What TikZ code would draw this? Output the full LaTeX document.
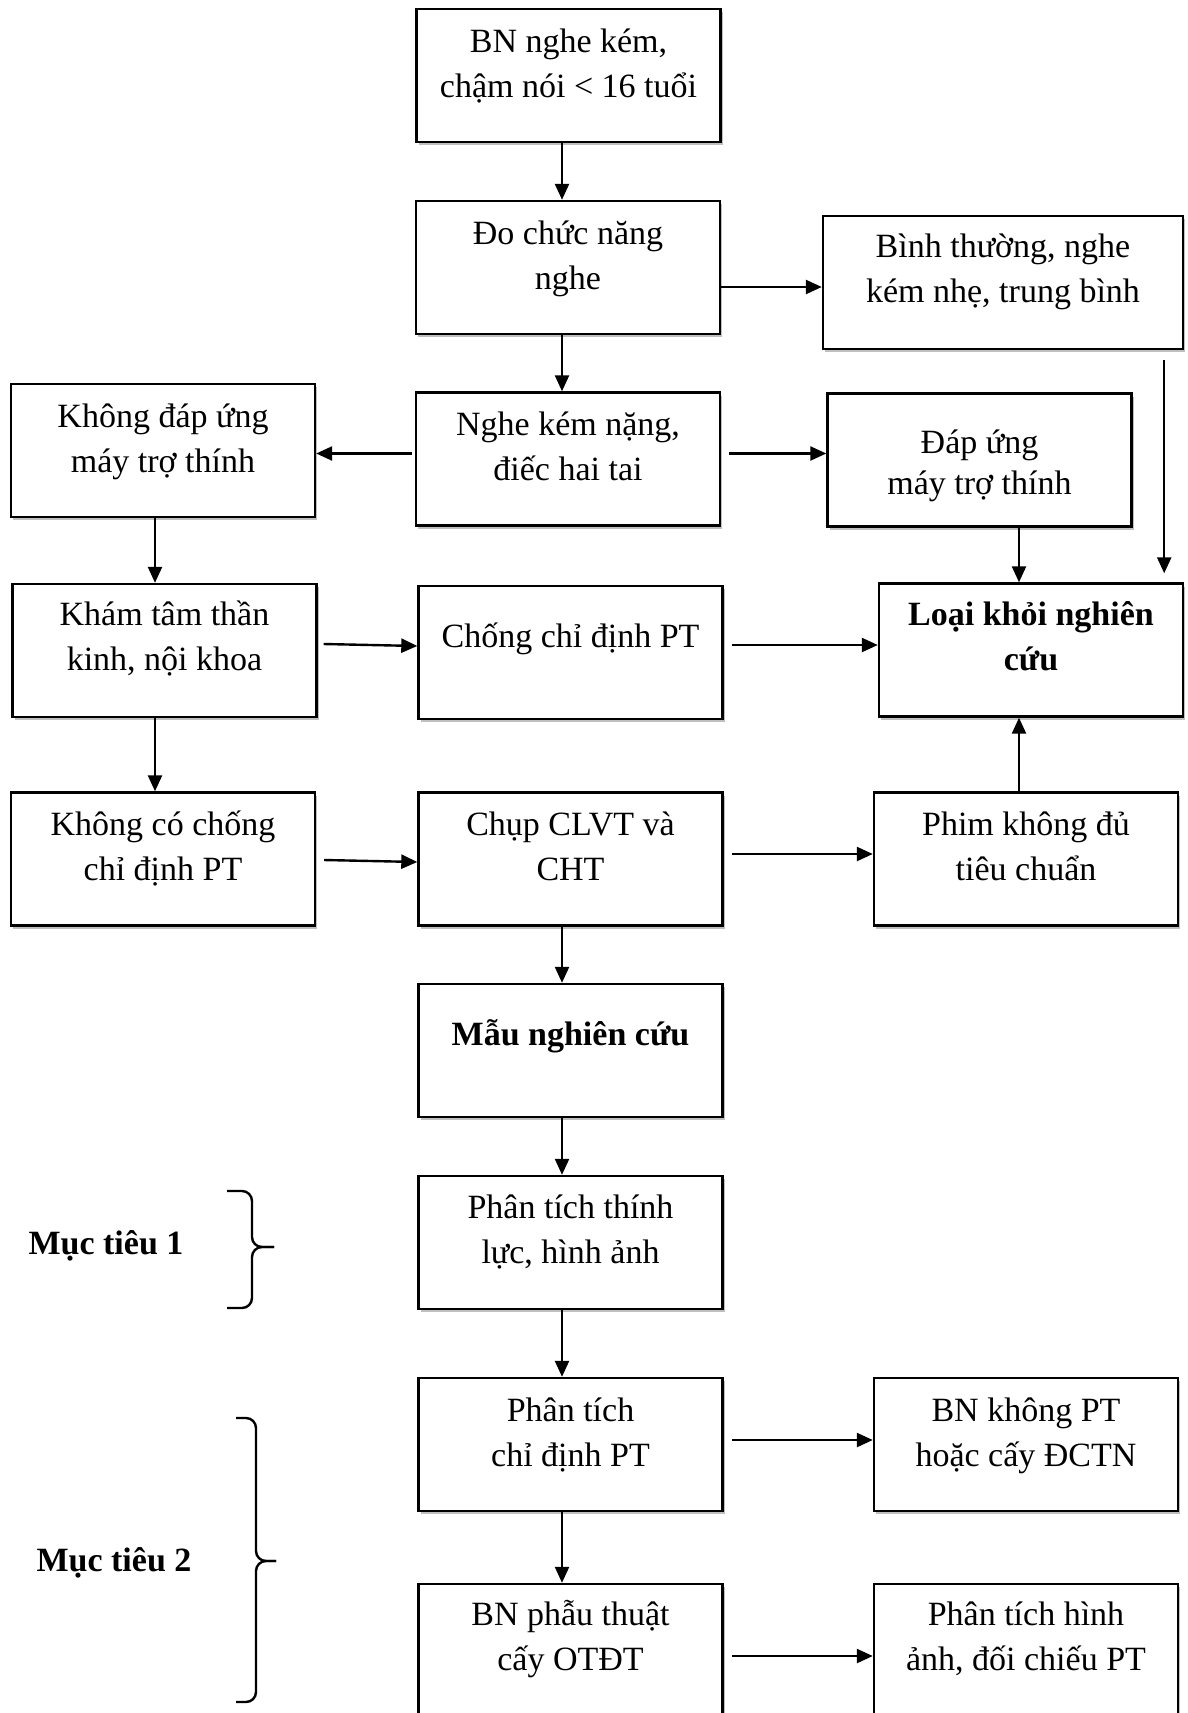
\documentclass[tikz,border=0pt]{standalone}
\usepackage{fontspec}
\setmainfont{Liberation Serif}
\usetikzlibrary{arrows.meta,calc,shadows}
\tikzset{pin/.style={-{Triangle[length=8pt,width=7pt]}, line width=1.2pt},
  box/.style={draw, line width=1.2pt, fill=white, minimum width=152pt, minimum height=66.5pt, inner sep=0pt,
    drop shadow={shadow xshift=1pt, shadow yshift=-1.5pt, fill=black, opacity=0.25}},
  widebox/.style={box, minimum width=180pt},
  goal/.style={font=\fontsize{17}{22.5}\selectfont\bfseries},
  brc/.style={line width=1.2pt, rounded corners=5pt}}
\newcommand{\boxtext}[2][0.5pt]{\raisebox{#1}[0pt][0pt]{\begin{tabular}{@{}c@{}}#2\end{tabular}}}

\begin{document}
\begin{tikzpicture}[x=0.5pt, y=-0.5pt, font=\fontsize{17}{22.5}\selectfont]
  \useasboundingbox (0,0) rectangle (1188,1713);
  % boxes
  \node[box] (start)    at (568.5,75.5) {\boxtext{BN nghe kém,\\chậm nói < 16 tuổi}};
  \node[box] (hear)     at (568,267.5)  {\boxtext{Đo chức năng\\nghe}};
  \node[widebox] (normal) at (1003,282.5) {\boxtext[1.5pt]{Bình thường, nghe\\kém nhẹ, trung bình}};
  \node[box] (noresp)   at (163,450.5)  {\boxtext{Không đáp ứng\\máy trợ thính}};
  \node[box] (severe)   at (568,459)    {\boxtext{Nghe kém nặng,\\điếc hai tai}};
  \node[box] (resp)     at (979.5,460)  {\boxtext[-6.7pt]{Đáp ứng\\[-2pt]máy trợ thính}};
  \node[box] (exam)     at (164.5,650.5) {\boxtext[1.5pt]{Khám tâm thần\\kinh, nội khoa}};
  \node[box] (contra)   at (570.5,652.5) {\boxtext[2.5pt]{Chống chỉ định PT}};
  \node[box] (excl)     at (1031,650)   {\boxtext[1pt]{\textbf{Loại khỏi nghiên}\\\textbf{cứu}}};
  \node[box] (nocontra) at (163,859)    {\boxtext{Không có chống\\chỉ định PT}};
  \node[box] (ct)       at (570.5,859)  {\boxtext{Chụp CLVT và\\CHT}};
  \node[box] (film)     at (1026,859)   {\boxtext{Phim không đủ\\tiêu chuẩn}};
  \node[box] (sample)   at (570.5,1050.5) {\boxtext[2.5pt]{\textbf{Mẫu nghiên cứu}}};
  \node[box] (audio)    at (570.5,1242.5) {\boxtext[1pt]{Phân tích thính\\lực, hình ảnh}};
  \node[box] (indic)    at (570.5,1444.5) {\boxtext{Phân tích\\chỉ định PT}};
  \node[box] (nosurg)   at (1026,1444.5)  {\boxtext{BN không PT\\hoặc cấy ĐCTN}};
  \node[box] (surg)     at (570.5,1650.5) {\boxtext[1.5pt]{BN phẫu thuật\\cấy OTĐT}};
  \node[box] (image)    at (1026,1650.5)  {\boxtext[1.5pt]{Phân tích hình\\ảnh, đối chiếu PT}};
  % vertical lines the arrows run on
  \coordinate (axis) at (562,0);
  \coordinate (lx) at (155,0);
  \coordinate (rx) at (1019,0);
  % main column
  \draw[pin] (start.south -| axis) -- (hear.north -| axis);
  \draw[pin] (hear.south -| axis) -- (severe.north -| axis);
  \draw[pin] (ct.south -| axis) -- (sample.north -| axis);
  \draw[pin] (sample.south -| axis) -- (audio.north -| axis);
  \draw[pin] (audio.south -| axis) -- (indic.north -| axis);
  \draw[pin] (indic.south -| axis) -- (surg.north -| axis);
  % side branches
  \draw[pin] ($(hear.east)+(0,19.5)$) -- ($(normal.west)+(0,4.5)$);
  \draw[pin] ($(severe.west)+(-3,-5.5)$) -- ($(noresp.east)+(0,3)$);
  \draw[pin] ($(severe.east)+(8,-5.5)$) -- ($(resp.west)+(0,-6.5)$);
  \draw[pin] ($(exam.east)+(6,-6.5)$) -- ($(contra.west)+(0,-6.5)$);
  \draw[pin] ($(contra.east)+(8,-7.5)$) -- ($(excl.west)+(0,-5)$);
  \draw[pin] ($(nocontra.east)+(8,1)$) -- ($(ct.west)+(0,3)$);
  \draw[pin] ($(ct.east)+(8,-5)$) -- ($(film.west)+(0,-5)$);
  \draw[pin] ($(indic.east)+(8,-4.5)$) -- ($(nosurg.west)+(0,-4.5)$);
  \draw[pin] ($(surg.east)+(8,5.5)$) -- ($(image.west)+(0,5.5)$);
  % left column
  \draw[pin] (noresp.south -| lx) -- (exam.north -| lx);
  \draw[pin] (exam.south -| lx) -- (nocontra.north -| lx);
  % into the exclusion box
  \draw[pin] ($(normal.south east)+(-20,10)$) -- ($(excl.north east)+(-20,-9)$);
  \draw[pin] (resp.south -| rx) -- (excl.north -| rx);
  \draw[pin] (film.north -| rx) -- (excl.south -| rx);
  % objectives
  \node[goal] (goal1) at (106,1246) {Mục tiêu 1};
  \node[goal] (goal2) at (114,1563) {Mục tiêu 2};
  \draw[brc] (227,1191) -- (252,1191) -- (252,1247) -- (274,1247);
  \draw[brc] (274,1247) -- (252,1247) -- (252,1308) -- (227,1308);
  \draw[brc] (236,1418) -- (256,1418) -- (256,1561) -- (276,1561);
  \draw[brc] (276,1561) -- (256,1561) -- (256,1702) -- (236,1702);
\end{tikzpicture}
\end{document}
